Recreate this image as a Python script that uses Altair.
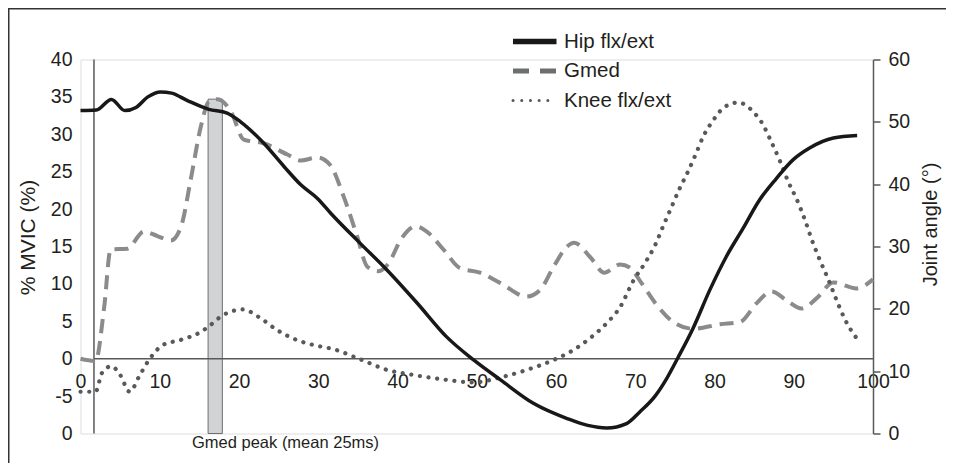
import altair as alt
import pandas as pd

# ---------------- data ----------------
series = ["Hip flx/ext", "Gmed", "Knee flx/ext"]

hip_x = [0, 2.0, 3.9, 5.6, 7.0, 8.5, 10.1, 11.5, 13.5, 16.2, 18.5, 20.2, 23.1, 25.7,
         27.8, 29.9, 31.6, 35.3, 38.7, 42.5, 46.2, 49.6, 53.0, 57.2, 61.4, 64.0,
         66.4, 68.9, 70.6, 72.5, 74.0, 75.4, 77.3, 79.4, 81.5, 83.6, 85.7, 87.8,
         89.9, 92.0, 95.0, 98.0]
hip_angle = [51.8, 51.9, 53.6, 51.8, 52.3, 54.0, 54.8, 54.6, 53.4, 52.0, 51.4, 50.0,
             46.6, 42.8, 39.9, 37.7, 35.3, 30.5, 26.2, 20.9, 15.5, 11.8, 8.6, 4.8,
             2.4, 1.3, 0.9, 1.6, 3.5, 6.0, 8.9, 12.2, 16.9, 23.0, 28.4, 32.9, 37.5,
             40.9, 43.9, 45.8, 47.4, 47.8]

gmed_x = [0, 1.9, 3.0, 3.8, 5.9, 8.0, 9.7, 11.4, 12.7, 13.9, 15.2, 16.2, 17.3, 19.0,
          20.6, 23.1, 26.1, 27.8, 29.9, 31.5, 33.2, 34.9, 36.2, 37.6, 38.9, 40.4,
          42.3, 43.7, 45.8, 47.9, 50.4, 53.0, 56.3, 58.0, 59.7, 61.4, 62.3, 64.3,
          66.1, 68.1, 69.3, 70.8, 72.7, 74.8, 77.3, 80.7, 83.2, 85.3, 87.2, 89.1,
          91.0, 92.9, 95.0, 97.9, 100]
gmed_mvic = [0, -0.3, 7.0, 14.6, 14.7, 17.0, 16.4, 15.8, 17.7, 23.9, 31.1, 34.4, 34.7,
             33.0, 29.3, 28.8, 27.3, 26.5, 26.9, 25.9, 21.7, 16.4, 12.3, 11.7, 12.8,
             15.9, 17.7, 17.0, 14.6, 12.1, 11.5, 10.1, 8.3, 9.2, 12.3, 15.0, 15.5,
             13.6, 11.5, 12.6, 12.2, 10.1, 7.2, 4.9, 4.0, 4.6, 4.9, 7.4, 9.0, 7.8,
             6.7, 8.1, 10.2, 9.4, 10.6]

knee_x = [0, 1.9, 2.7, 3.9, 5.0, 6.2, 7.5, 8.8, 10.4, 12.6, 14.9, 15.9, 18.0, 20.5,
          22.6, 24.8, 27.3, 29.4, 32.0, 35.3, 38.7, 42.0, 46.2, 49.6, 53.0, 56.3,
          59.7, 61.8, 64.3, 66.4, 68.1, 69.8, 71.2, 72.5, 73.5, 74.6, 75.6, 76.5,
          77.6, 78.6, 79.7, 81.3, 83.0, 84.9, 86.0, 87.2, 88.3, 89.3, 90.4, 91.4,
          92.3, 93.3, 94.4, 95.4, 96.5, 98.1]
knee_angle = [6.7, 6.7, 9.7, 10.8, 9.4, 6.7, 9.4, 12.1, 14.2, 15.0, 16.1, 16.9, 19.0,
              19.9, 18.6, 16.6, 15.0, 14.2, 13.5, 11.9, 10.2, 9.4, 8.6, 8.2, 9.0,
              10.2, 11.8, 13.1, 15.3, 17.7, 20.3, 24.6, 27.3, 30.2, 33.2, 36.4, 39.3,
              41.6, 44.7, 47.7, 50.0, 52.4, 53.1, 51.6, 49.8, 46.7, 43.6, 40.4, 37.5,
              34.3, 31.0, 27.8, 24.6, 21.4, 18.2, 15.0]

x_ticks = list(range(0, 101, 10))
mvic_ticks = list(range(-10, 41, 5))
angle_ticks = list(range(0, 61, 10))

peak_x0, peak_x1, peak_top = 16.1, 17.9, 34.7
peak_label = "Gmed peak (mean 25ms)"
axis_x0 = 1.7

# ---------------- tables ----------------
hip_df = pd.DataFrame({"x": hip_x, "a": hip_angle})
gmed_df = pd.DataFrame({"x": gmed_x, "v": gmed_mvic})
knee_df = pd.DataFrame({"x": knee_x, "a": knee_angle})
peak_df = pd.DataFrame({"x": [peak_x0], "x2": [peak_x1], "y": [-10], "y2": [peak_top]})
zero_df = pd.DataFrame({"x": [axis_x0], "x2": [100], "y": [0]})
vaxis_df = pd.DataFrame({"x": [axis_x0], "y": [-10], "y2": [40]})

FONT = "Liberation Sans"
TXT = "#231f20"
AXC = "#58595b"

xs = alt.Scale(domain=[0, 100], nice=False, zero=False)
ls = alt.Scale(domain=[-10, 40], nice=False, zero=False)
rs = alt.Scale(domain=[0, 60], nice=False, zero=False)

xaxis = alt.Axis(values=x_ticks, orient="bottom", offset=-74.8, domain=False, ticks=False,
                 grid=False, labelPadding=14, labelFontSize=19.5, labelColor=TXT,
                 labelFlush=False, labelOverlap=False, title=None, labelFont=FONT)

left_axis = alt.Axis(values=mvic_ticks, orient="left", domain=False, ticks=False, grid=False,
                     labelPadding=8.5, labelFontSize=19.5, labelColor=TXT, labelFont=FONT,
                     labelExpr="datum.value == -10 ? '0' : '' + datum.value",
                     labelOverlap=False, labelFlush=False,
                     title="% MVIC (%)", titleAngle=270, titleFontSize=21,
                     titleFontWeight="normal", titleColor=TXT, titleFont=FONT,
                     titleBaseline="middle", titleAlign="center",
                     titleX=-52.5, titleY=177.5)

right_axis = alt.Axis(values=angle_ticks, orient="right", domain=True, domainColor=AXC,
                      domainWidth=1.5, ticks=True, tickSize=7, tickColor=AXC, tickWidth=1.5,
                      grid=False, labelPadding=8, labelFontSize=19.5, labelColor=TXT,
                      labelFont=FONT, labelOverlap=False, labelFlush=False,
                      title="Joint angle (°)", titleAngle=270, titleFontSize=20,
                      titleFontWeight="normal", titleColor=TXT, titleFont=FONT,
                      titleBaseline="middle", titleAlign="center",
                      titleX=57, titleY=164.5)

bar = alt.Chart(peak_df).mark_rect(fill="#d1d3d4", stroke="#6d6e70", strokeWidth=1).encode(
    x=alt.X("x:Q", scale=xs, axis=xaxis), x2="x2:Q",
    y=alt.Y("y:Q", scale=ls, axis=None), y2="y2:Q")

zero_line = alt.Chart(zero_df).mark_rule(color=AXC, strokeWidth=1.5).encode(
    x=alt.X("x:Q", scale=xs, axis=xaxis), x2="x2:Q",
    y=alt.Y("y:Q", scale=ls, axis=None))

vline = alt.Chart(vaxis_df).mark_rule(color=AXC, strokeWidth=1.5).encode(
    x=alt.X("x:Q", scale=xs, axis=xaxis),
    y=alt.Y("y:Q", scale=ls, axis=None), y2="y2:Q")

gmed = alt.Chart(gmed_df).mark_line(color="#8a8b8d", strokeWidth=4, strokeDash=[14, 8],
                                    interpolate="monotone").encode(
    x=alt.X("x:Q", scale=xs, axis=xaxis),
    y=alt.Y("v:Q", scale=ls, axis=left_axis))

hip = alt.Chart(hip_df).mark_line(color="#1a1718", strokeWidth=3.5,
                                  interpolate="monotone").encode(
    x=alt.X("x:Q", scale=xs, axis=xaxis),
    y=alt.Y("a:Q", scale=rs, axis=right_axis))

knee = alt.Chart(knee_df).mark_line(color="#58595b", strokeWidth=4.2, strokeDash=[0.1, 8.6],
                                    strokeCap="round", interpolate="monotone").encode(
    x=alt.X("x:Q", scale=xs, axis=xaxis),
    y=alt.Y("a:Q", scale=rs, axis=None))

annot = alt.Chart(pd.DataFrame({"t": [peak_label]})).mark_text(
    align="left", baseline="middle", fontSize=16.5, font=FONT, color=TXT).encode(
    x=alt.value(111.5), y=alt.value(383.5), text="t:N")

# legend (manual, Excel style)
leg_rows = [-18, 11.5, 41]
leg_styles = [
    dict(color="#1a1718", strokeWidth=5.5),
    dict(color="#6d6e70", strokeWidth=5, strokeDash=[16, 11]),
    dict(color="#58595b", strokeWidth=3, strokeDash=[0.1, 8.6], strokeCap="round"),
]
legend_layers = []
for name, ry, st in zip(series, leg_rows, leg_styles):
    d = pd.DataFrame({"series": [name]})
    legend_layers.append(alt.Chart(d).mark_rule(**st).encode(
        x=alt.value(432.5), x2=alt.value(476), y=alt.value(ry)))
    legend_layers.append(alt.Chart(d).mark_text(
        align="left", baseline="middle", fontSize=20.5, font=FONT, color=TXT).encode(
        x=alt.value(483.5), y=alt.value(ry), text="series:N"))

# figure frame (top and left edges)
frame_df = pd.DataFrame({"k": [0]})
frame_top = alt.Chart(frame_df).mark_rule(color="#333333", strokeWidth=1.5).encode(
    x=alt.value(-80), x2=alt.value(900), y=alt.value(-50.75))
frame_left = alt.Chart(frame_df).mark_rule(color="#333333", strokeWidth=1.5).encode(
    x=alt.value(-71.75), y=alt.value(-60), y2=alt.value(420))

chart = alt.layer(
    bar, zero_line, vline, gmed, knee, hip, annot, *legend_layers, frame_top, frame_left
).resolve_scale(y="independent").properties(
    width=792.5, height=374,
    autosize=alt.AutoSizeParams(type="none"),
    padding={"left": 72.5, "top": 51.5, "right": 73, "bottom": 29.5},
    background="white",
).configure_view(stroke=None).configure(font=FONT)

chart.save("out.html", embed_options={"renderer": "svg", "actions": False})
